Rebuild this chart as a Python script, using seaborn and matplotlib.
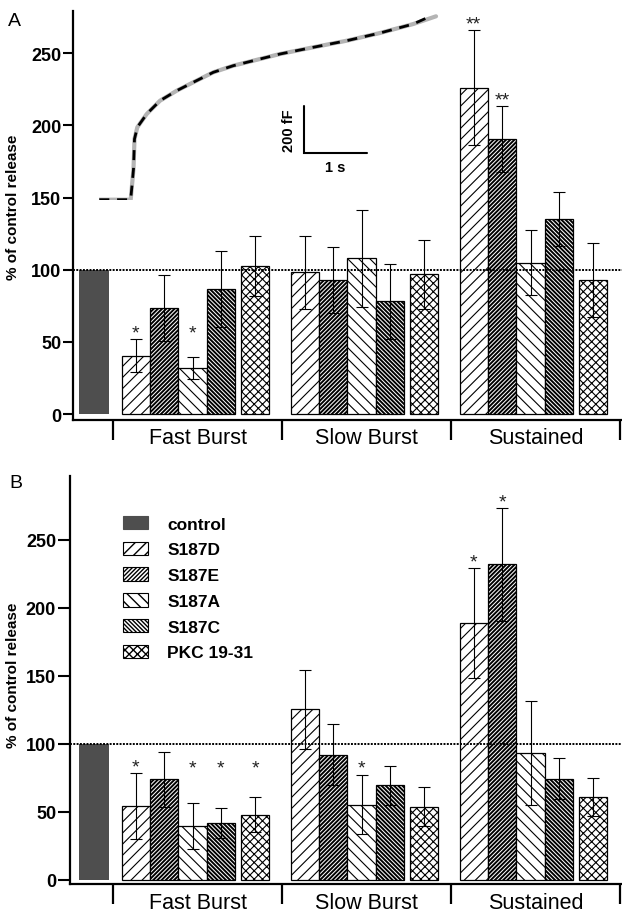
import matplotlib
matplotlib.use("Agg")
import numpy as np
import pandas as pd
import matplotlib.pyplot as plt
import seaborn as sns
from matplotlib.patches import Patch

# ---------------- data ----------------
GROUPS = ["Fast Burst", "Slow Burst", "Sustained"]
SERIES = ["S187D", "S187E", "S187A", "S187C", "PKC 19-31"]
CONTROL_LABEL = "control"
CONTROL_VALUE = 100
Y_TICKS = [0, 50, 100, 150, 200, 250]

# Panel A  (values per group: Fast Burst, Slow Burst, Sustained)
A_S187D = [40.4, 98.2, 226.2]
A_S187E = [73.5, 92.9, 190.4]
A_S187A = [31.9, 107.9, 104.9]
A_S187C = [86.6, 78.1, 135.2]
A_PKC = [102.8, 96.8, 92.9]
A_S187D_ERR = [11.6, 25.4, 40.0]
A_S187E_ERR = [22.8, 22.6, 22.9]
A_S187A_ERR = [7.4, 33.7, 22.6]
A_S187C_ERR = [26.2, 25.9, 18.9]
A_PKC_ERR = [20.8, 24.0, 25.4]
A_S187D_SIG = ["*", "", "**"]
A_S187E_SIG = ["", "", "**"]
A_S187A_SIG = ["*", "", ""]
A_S187C_SIG = ["", "", ""]
A_PKC_SIG = ["", "", ""]

# Panel B
B_S187D = [54.2, 125.2, 188.7]
B_S187E = [73.8, 91.9, 232.1]
B_S187A = [39.5, 54.9, 92.9]
B_S187C = [41.7, 69.4, 74.3]
B_PKC = [47.8, 53.6, 60.7]
B_S187D_ERR = [24.0, 29.2, 40.5]
B_S187E_ERR = [20.1, 22.3, 41.7]
B_S187A_ERR = [16.9, 21.7, 38.4]
B_S187C_ERR = [10.8, 14.4, 15.3]
B_PKC_ERR = [13.0, 14.4, 13.8]
B_S187D_SIG = ["*", "", "*"]
B_S187E_SIG = ["", "", "*"]
B_S187A_SIG = ["*", "*", ""]
B_S187C_SIG = ["*", "", ""]
B_PKC_SIG = ["*", "", ""]

# Inset capacitance trace (time in s, capacitance in fF)
TRACE_T = [0.000, 0.503, 0.548, 0.564, 0.609, 0.760, 0.973, 1.240, 1.506, 1.827,
           2.147, 2.575, 2.896, 3.429, 3.965, 4.498, 5.032, 5.396]
TRACE_C = [0.0, 0.0, 130.6, 258.3, 308.1, 364.7, 421.3, 463.8, 499.6, 542.1,
           570.2, 598.7, 620.0, 648.5, 676.6, 709.3, 747.6, 780.4]
SCALE_T = 1.0      # s
SCALE_C = 200.0    # fF

# ---------------- style ----------------
sns.set_theme(style="ticks")
plt.rcParams["font.family"] = ["Liberation Sans", "DejaVu Sans"]
plt.rcParams["axes.edgecolor"] = "black"
plt.rcParams["xtick.color"] = "black"
plt.rcParams["ytick.color"] = "black"
plt.rcParams["text.color"] = "black"
plt.rcParams["axes.labelcolor"] = "black"

CONTROL_COLOR = "#4e4e4e"
HATCHES = ["///", "////////", "\\\\\\", "\\" * 8, "xxxx"]
HATCH_LW = [0.8, 1.4, 0.8, 1.4, 0.8]

BAR_W = 1.0
CONTROL_W = 1.05
GROUP_STEP = 5.95
FIRST_START = 1.47
PKC_OFFSET = 4.2


def bar_pos(g, k):
    start = FIRST_START + GROUP_STEP * g
    return start + (k if k < 4 else PKC_OFFSET)


SEPS = [FIRST_START + GROUP_STEP * g - 0.8 for g in range(4)]
CENTERS = [(SEPS[g] + SEPS[g + 1]) / 2 for g in range(3)]

W, H = 622, 912
fig = plt.figure(figsize=(W / 100, H / 100), dpi=100)


def style_patch(p, k):
    p.set_facecolor("white")
    p.set_edgecolor("black")
    p.set_linewidth(0.9)
    p.set_hatch(HATCHES[k])
    if hasattr(p, "set_hatch_linewidth"):
        p.set_hatch_linewidth(HATCH_LW[k])


def draw_panel(ax, vals, errs, sigs, ylim, xlim, star_floor, ytick_len, label_pad):
    sns.barplot(x=[0.0], y=[CONTROL_VALUE], native_scale=True, width=CONTROL_W,
                color=CONTROL_COLOR, saturation=1, errorbar=None, ax=ax,
                orient="x", linewidth=0)
    for k in range(len(SERIES)):
        pos = [bar_pos(g, k) for g in range(len(GROUPS))]
        n0 = len(ax.patches)
        sns.barplot(x=pos, y=vals[k], native_scale=True, width=BAR_W / GROUP_STEP,
                    color="white", saturation=1, errorbar=None, ax=ax, orient="x",
                    edgecolor="black", linewidth=0.9)
        for p in ax.patches[n0:]:
            style_patch(p, k)
            p.set_zorder(2)
        ax.errorbar(pos, vals[k], yerr=errs[k], fmt="none", ecolor="black",
                    elinewidth=0.8, capsize=4, capthick=0.8, zorder=4)
        for g in range(len(GROUPS)):
            if sigs[k][g]:
                top = max(vals[k][g] + errs[k][g], star_floor)
                ax.annotate(sigs[k][g], xy=(pos[g], top), xytext=(0, 1),
                            textcoords="offset points", ha="center", va="baseline",
                            fontsize=14, color="#222222", zorder=6)
    ax.axhline(CONTROL_VALUE, color="black", lw=1.4, ls=(0, (1, 0.7)), zorder=5)

    ax.set_xlim(*xlim)
    ax.set_ylim(*ylim)
    sns.despine(ax=ax)
    for side in ("left", "bottom"):
        ax.spines[side].set_linewidth(1.6)
        ax.spines[side].set_color("black")
    ax.set_yticks(Y_TICKS)
    ax.set_yticklabels([str(v) for v in Y_TICKS])
    ax.tick_params(axis="y", length=ytick_len, width=1.5, pad=1.5, labelsize=13)
    for lbl in ax.get_yticklabels():
        lbl.set_fontweight("bold")
    ax.set_xticks(SEPS)
    ax.set_xticklabels([""] * len(SEPS))
    ax.set_xticks(CENTERS, minor=True)
    ax.set_xticklabels(GROUPS, minor=True)
    ax.tick_params(axis="x", which="major", length=14.5, width=1.6, direction="out")
    ax.tick_params(axis="x", which="minor", length=0, pad=label_pad, labelsize=15.5)
    ax.set_xlabel("")
    ax.set_ylabel("")


# ---------------- panel A ----------------
A_VALS = [A_S187D, A_S187E, A_S187A, A_S187C, A_PKC]
A_ERRS = [A_S187D_ERR, A_S187E_ERR, A_S187A_ERR, A_S187C_ERR, A_PKC_ERR]
A_SIGS = [A_S187D_SIG, A_S187E_SIG, A_S187A_SIG, A_S187C_SIG, A_PKC_SIG]

axA_left, axA_bot_px, axA_top_px = 73.3, 420.7, 12
axA = fig.add_axes([axA_left / W, 1 - axA_bot_px / H, 1 - axA_left / W,
                    (axA_bot_px - axA_top_px) / H])
draw_panel(axA, A_VALS, A_ERRS, A_SIGS, ylim=(-3.95, 279.3),
           xlim=((axA_left - 94) / 28.4, (W - 94) / 28.4), star_floor=52,
           ytick_len=7, label_pad=5)

# ---------------- panel B ----------------
B_VALS = [B_S187D, B_S187E, B_S187A, B_S187C, B_PKC]
B_ERRS = [B_S187D_ERR, B_S187E_ERR, B_S187A_ERR, B_S187C_ERR, B_PKC_ERR]
B_SIGS = [B_S187D_SIG, B_S187E_SIG, B_S187A_SIG, B_S187C_SIG, B_PKC_SIG]

axB_left, axB_bot_px, axB_top_px = 70, 885, 477
axB = fig.add_axes([axB_left / W, 1 - axB_bot_px / H, 1 - axB_left / W,
                    (axB_bot_px - axB_top_px) / H])
draw_panel(axB, B_VALS, B_ERRS, B_SIGS, ylim=(-3.3, 297.1),
           xlim=((axB_left - 94) / 28.4, (W - 94) / 28.4), star_floor=77.5,
           ytick_len=8.5, label_pad=5.5)

# legend (panel B)
handles = [Patch(facecolor=CONTROL_COLOR, edgecolor=CONTROL_COLOR, linewidth=0.8)]
for k in range(len(SERIES)):
    hp = Patch(facecolor="white", edgecolor="black", hatch=HATCHES[k], linewidth=0.8)
    if hasattr(hp, "set_hatch_linewidth"):
        hp.set_hatch_linewidth(HATCH_LW[k])
    handles.append(hp)
leg = axB.legend(handles, [CONTROL_LABEL] + SERIES, loc="upper left",
                 bbox_to_anchor=(123 / W, 1 - 517 / H), bbox_transform=fig.transFigure,
                 frameon=False, borderpad=0, borderaxespad=0, handlelength=1.45,
                 handleheight=0.8, handletextpad=1.1, labelspacing=0.58,
                 prop={"weight": "bold", "size": 12.5})

# axis labels and panel letters
fig.text(13 / W, 1 - 207 / H, "% of control release", rotation=90, ha="center",
         va="center", fontsize=11, fontweight="bold")
fig.text(13 / W, 1 - 675 / H, "% of control release", rotation=90, ha="center",
         va="center", fontsize=11, fontweight="bold")
fig.text(8 / W, 1 - 13 / H, "A", fontsize=14, ha="left", va="top")
fig.text(9 / W, 1 - 475 / H, "B", fontsize=14, ha="left", va="top")

# ---------------- inset trace (panel A) ----------------
px_per_s, px_per_fF = 62.4, 47.0 / 200.0
t_max, c_max = 5.5, 800.0
ins = fig.add_axes([99.3 / W, 1 - 200.7 / H, t_max * px_per_s / W, c_max * px_per_fF / H])
ins.set_xlim(0, t_max)
ins.set_ylim(0, c_max)
ins.axis("off")
sns.lineplot(x=TRACE_T, y=TRACE_C, ax=ins, color="#b4b4b4", lw=3.0, sort=False,
             estimator=None)
ins.plot(TRACE_T[:-1] + [TRACE_T[-1] - 0.15], TRACE_C[:-1] + [TRACE_C[-1] - 7],
         color="black", lw=2.0, dashes=(3.6, 2.8), solid_capstyle="butt")
sb_t0, sb_c0 = 3.285, 197.4
ins.plot([sb_t0, sb_t0, sb_t0 + SCALE_T], [sb_c0 + SCALE_C, sb_c0, sb_c0],
         color="black", lw=1.5, solid_joinstyle="miter")
ins.text(sb_t0 - 0.24, sb_c0 + SCALE_C / 2, f"{SCALE_C:.0f} fF", rotation=90,
         ha="center", va="center", fontsize=10.5, fontweight="bold")
ins.text(sb_t0 + 0.5, sb_c0 - 57, f"{SCALE_T:.0f} s", ha="center", va="center",
         fontsize=10.5, fontweight="bold")
for a in (axA, axB, ins):
    a.set_facecolor("none")

fig.savefig("out.png", dpi=100)
